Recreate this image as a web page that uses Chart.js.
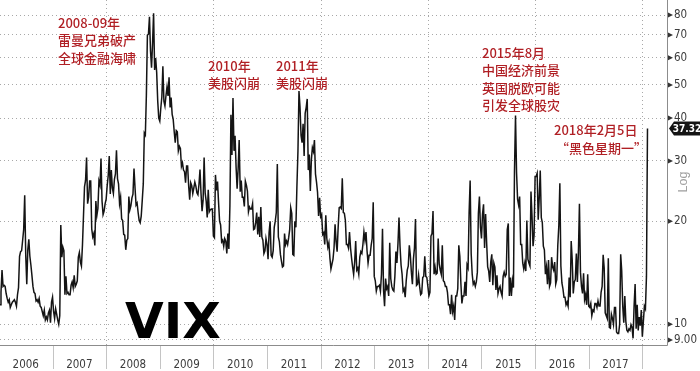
<!DOCTYPE html>
<html>
<head>
<meta charset="utf-8">
<script src="https://cdn.jsdelivr.net/npm/chart.js@4.4.0/dist/chart.umd.min.js"></script>
<style>
  html, body { margin: 0; background: #fff; }
  #wrap { width: 700px; height: 371px; position: relative; }
</style>
</head>
<body>
<div id="wrap"><canvas id="c"></canvas></div>
<script>
// weekly VIX closes (spike weeks carry the daily peak), one array per year
const vix2006 = [11.1, 11.4, 12.4, 14.4, 12.9, 13.0, 12.9, 12.3, 11.9, 11.6, 11.8, 11.2, 11.4, 11.6, 11.7, 11.8, 11.6, 11.3, 12.2, 12.8, 15.8, 16.3, 16.4, 17.6, 18.9, 23.8, 15.9, 13.1, 16.5, 17.7, 15.8, 14.9, 13.9, 12.9, 12.4, 12.3, 11.7, 11.8, 11.6, 11.9, 11.3, 11.2, 10.9, 10.6, 11.0, 10.3, 10.5, 10.3, 10.8, 11.0, 10.1, 11.6]
const vix2007 = [12.0, 10.9, 10.4, 11.1, 10.7, 10.3, 10.0, 10.6, 19.5, 15.7, 16.8, 16.4, 12.2, 13.8, 12.3, 12.4, 12.2, 12.2, 13.0, 13.3, 12.8, 13.9, 12.9, 13.1, 13.4, 15.7, 16.2, 15.2, 14.8, 17.0, 20.7, 25.2, 26.3, 30.7, 22.5, 23.5, 26.2, 26.2, 19.0, 18.0, 18.4, 17.0, 22.9, 20.8, 21.8, 26.2, 25.5, 30.5, 22.9, 20.9, 21.4, 22.5]
const vix2008 = [23.2, 25.4, 27.2, 31.0, 24.0, 28.2, 25.0, 24.1, 26.5, 27.5, 32.2, 26.6, 25.7, 22.5, 23.5, 20.3, 20.1, 18.3, 18.2, 16.5, 17.6, 17.8, 23.6, 21.6, 22.2, 23.4, 24.0, 28.5, 25.0, 22.3, 22.6, 21.2, 20.1, 19.8, 20.7, 23.0, 25.7, 36.2, 35.7, 46.7, 69.9, 70.3, 79.1, 62.9, 56.1, 66.3, 80.9, 55.3, 59.9, 54.3, 44.9, 40.0]
const vix2009 = [39.2, 42.8, 46.1, 56.7, 44.8, 43.4, 46.5, 49.3, 46.4, 52.6, 43.0, 45.9, 41.0, 39.7, 36.5, 33.9, 36.8, 36.5, 32.1, 33.1, 32.6, 28.9, 29.6, 28.2, 27.9, 25.9, 29.0, 29.0, 25.4, 23.1, 25.9, 25.4, 24.1, 25.0, 26.0, 25.3, 24.2, 23.9, 25.6, 28.3, 24.1, 21.4, 23.0, 30.7, 24.2, 22.9, 20.5, 24.7, 21.3, 21.6, 21.7, 21.7]
const vix2010 = [18.1, 17.9, 27.3, 24.6, 26.1, 22.7, 20.0, 19.5, 17.4, 17.6, 16.9, 17.8, 17.5, 16.1, 18.4, 16.6, 22.1, 40.9, 31.2, 45.8, 32.1, 35.5, 28.8, 24.9, 28.5, 34.5, 24.4, 26.3, 23.5, 23.5, 22.1, 26.2, 25.5, 24.5, 21.3, 22.0, 21.7, 21.7, 22.5, 18.9, 19.0, 19.8, 21.2, 18.3, 20.6, 18.0, 22.0, 18.0, 17.6, 16.1, 16.4, 17.8]
const vix2011 = [17.1, 15.5, 18.5, 20.0, 15.9, 15.7, 16.4, 19.2, 20.0, 21.2, 29.4, 18.0, 17.4, 16.0, 15.3, 14.7, 14.8, 18.4, 17.1, 17.5, 17.1, 17.9, 18.9, 21.9, 21.1, 16.0, 15.9, 20.0, 19.2, 25.3, 32.0, 48.0, 43.0, 35.6, 33.9, 38.5, 31.0, 41.3, 43.0, 45.5, 28.2, 31.3, 24.5, 30.2, 32.8, 32.0, 34.5, 27.5, 26.0, 24.3, 20.7, 23.4]
const vix2012 = [20.6, 20.9, 18.3, 18.5, 17.1, 20.8, 17.8, 16.8, 17.3, 15.6, 14.5, 15.0, 15.5, 16.7, 19.6, 17.4, 16.3, 19.2, 21.9, 22.0, 21.8, 26.7, 21.2, 21.1, 20.1, 17.1, 17.1, 16.7, 18.6, 16.7, 15.6, 14.7, 14.0, 15.2, 17.5, 14.4, 14.6, 14.0, 15.7, 16.3, 16.1, 17.1, 18.6, 17.6, 18.6, 16.4, 15.1, 15.9, 15.9, 17.0, 17.8, 22.7]
const vix2013 = [13.8, 13.4, 12.5, 12.9, 12.9, 13.0, 12.5, 14.0, 19.0, 12.6, 11.3, 13.6, 12.7, 12.9, 12.1, 17.3, 13.6, 12.9, 12.6, 12.5, 13.8, 16.3, 15.1, 17.2, 20.5, 16.9, 14.9, 14.0, 12.5, 12.7, 12.0, 13.4, 14.4, 14.8, 17.0, 15.9, 14.2, 13.1, 15.5, 16.7, 20.3, 13.0, 13.1, 13.9, 12.9, 12.2, 12.3, 13.7, 13.8, 15.8, 13.8, 13.7]
const vix2014 = [12.9, 12.1, 12.4, 18.1, 18.4, 21.4, 14.0, 14.7, 14.0, 14.1, 17.8, 15.0, 14.4, 14.0, 17.0, 13.4, 13.3, 12.9, 12.9, 12.4, 11.4, 11.4, 10.7, 12.2, 10.9, 11.3, 10.3, 12.1, 12.1, 12.7, 17.0, 15.8, 13.2, 11.5, 12.1, 12.1, 13.3, 12.1, 14.9, 14.6, 21.2, 26.3, 16.1, 14.0, 13.1, 13.3, 12.9, 13.3, 14.2, 21.1, 23.6, 19.2]
const vix2015 = [17.8, 21.0, 22.4, 16.7, 21.0, 17.3, 14.7, 14.3, 13.3, 15.2, 16.0, 13.0, 15.1, 14.7, 12.6, 13.9, 12.3, 12.7, 12.9, 12.4, 12.1, 13.8, 14.2, 13.8, 14.0, 18.9, 19.7, 12.1, 13.7, 12.1, 13.4, 12.8, 28.0, 40.7, 27.8, 23.2, 22.3, 23.6, 17.1, 17.1, 15.1, 14.5, 15.1, 14.3, 20.1, 15.5, 15.1, 14.8, 24.4, 20.7, 16.9, 18.2]
const vix2016 = [27.0, 27.0, 27.6, 20.2, 23.4, 28.1, 20.5, 19.8, 16.9, 16.5, 14.0, 14.7, 13.1, 15.4, 12.9, 13.2, 15.7, 14.7, 14.4, 15.2, 13.1, 13.5, 17.0, 19.4, 25.8, 14.8, 13.2, 12.7, 12.0, 12.0, 11.4, 11.6, 11.3, 13.7, 12.0, 17.5, 15.4, 12.3, 13.3, 13.5, 16.1, 13.3, 16.2, 22.5, 14.2, 12.9, 12.3, 14.1, 11.8, 12.2, 11.4, 14.0]
const vix2017 = [11.3, 11.2, 11.5, 10.6, 11.0, 10.9, 11.5, 11.5, 11.2, 11.7, 11.3, 11.3, 12.4, 12.9, 15.96, 14.6, 10.8, 10.6, 10.4, 15.6, 9.8, 9.75, 10.7, 10.4, 10.0, 11.2, 11.2, 9.5, 9.4, 9.4, 10.0, 16.0, 14.3, 11.3, 10.1, 12.1, 10.2, 9.6, 9.5, 9.7, 9.6, 9.97, 9.8, 9.1, 11.3, 13.1, 9.7, 11.4, 9.6, 10.5, 9.9, 11.0]
const vix2018 = [9.2, 10.2, 11.3, 11.1, 13.8, 37.32]

const years = [2006, 2007, 2008, 2009, 2010, 2011, 2012, 2013, 2014, 2015, 2016, 2017, 2018]
const yearly = [vix2006, vix2007, vix2008, vix2009, vix2010, vix2011, vix2012, vix2013, vix2014, vix2015, vix2016, vix2017, vix2018]

const yearLabels = [2006, 2007, 2008, 2009, 2010, 2011, 2012, 2013, 2014, 2015, 2016, 2017]
const yTicks = [9, 10, 20, 30, 40, 50, 60, 70, 80]

const notes = [
  { lines: ['2008-09年', '雷曼兄弟破产', '全球金融海啸'], x: 58, y: 23 },
  { lines: ['2010年', '美股闪崩'], x: 208, y: 66 },
  { lines: ['2011年', '美股闪崩'], x: 276, y: 66 },
  { lines: ['2015年8月', '中国经济前景', '英国脱欧可能', '引发全球股灾'], x: 482, y: 53 },
  { lines: ['2018年2月5日'], x: 554, y: 130 },
  { lines: ['“黑色星期一”'], x: 556, y: 148 },
]

// week i of year -> decimal year
const points = []
years.forEach((yr, k) => {
  yearly[k].forEach((v, i) => points.push({ x: yr + i / 52, y: v }))
})
const lastValue = vix2018[vix2018.length - 1]

const NARROW = "'Liberation Sans Narrow', 'DejaVu Sans Condensed', sans-serif"
const RED = '#b01f24'
const DOTS = [1, 3]

const decor = {
  id: 'decor',
  beforeDatasetsDraw(chart) {
    const { ctx, chartArea: a, scales: { x } } = chart
    ctx.save()
    // vertical dotted grid, every other year
    ctx.strokeStyle = '#a8a8a8'
    ctx.lineWidth = 1
    ctx.setLineDash(DOTS)
    for (let yr = 2008; yr <= 2018; yr += 2) {
      const px = Math.round(x.getPixelForValue(yr)) + 0.5
      ctx.beginPath(); ctx.moveTo(px, a.top); ctx.lineTo(px, a.bottom); ctx.stroke()
    }
    ctx.setLineDash([])
    // year separators under the plot
    ctx.strokeStyle = '#c4c4c4'
    for (let yr = 2007; yr <= 2018; yr++) {
      const px = Math.round(x.getPixelForValue(yr)) + 0.5
      ctx.beginPath(); ctx.moveTo(px, a.bottom); ctx.lineTo(px, chart.height - 2); ctx.stroke()
    }
    // VIX title
    ctx.fillStyle = '#000'
    ctx.font = "bold 50px 'DejaVu Sans', sans-serif"
    ctx.textBaseline = 'alphabetic'
    ctx.fillText('VIX', 125, 338)
    ctx.restore()
  },
  afterDraw(chart) {
    const { ctx, chartArea: a, scales: { y } } = chart
    ctx.save()
    // frame
    ctx.strokeStyle = '#8c8c8c'
    ctx.lineWidth = 1
    ctx.beginPath()
    ctx.moveTo(Math.round(a.right) + 0.5, 0)
    ctx.lineTo(Math.round(a.right) + 0.5, Math.round(a.bottom) + 0.5)
    ctx.lineTo(0, Math.round(a.bottom) + 0.5)
    ctx.stroke()
    // tick arrows
    ctx.fillStyle = '#333'
    yTicks.forEach(v => {
      const py = y.getPixelForValue(v)
      ctx.beginPath()
      ctx.moveTo(a.right + 1, py - 2.5); ctx.lineTo(a.right + 6, py); ctx.lineTo(a.right + 1, py + 2.5)
      ctx.closePath(); ctx.fill()
    })
    // last value tag
    const ty = y.getPixelForValue(lastValue)
    const bx = a.right + 7
    ctx.fillStyle = '#141414'
    ctx.beginPath()
    ctx.moveTo(a.right + 2, ty)
    ctx.lineTo(bx, ty - 7)
    ctx.lineTo(700, ty - 7)
    ctx.lineTo(700, ty + 7)
    ctx.lineTo(bx, ty + 7)
    ctx.closePath(); ctx.fill()
    ctx.fillStyle = '#fff'
    ctx.font = `bold 10px ${NARROW}`
    ctx.textAlign = 'center'
    ctx.textBaseline = 'middle'
    ctx.fillText(lastValue.toFixed(2), (bx + 700) / 2, ty + 0.5)
    // Log label
    ctx.save()
    ctx.translate(684, 182)
    ctx.rotate(-Math.PI / 2)
    ctx.fillStyle = '#a0a0a0'
    ctx.font = "12.5px 'Liberation Sans', sans-serif"
    ctx.fillText('Log', 0, 0)
    ctx.restore()
    // red notes
    ctx.fillStyle = RED
    ctx.font = "500 13px 'Noto Sans CJK SC', sans-serif"
    ctx.textAlign = 'left'
    notes.forEach(n => {
      n.lines.forEach((t, i) => ctx.fillText(t, n.x, n.y + i * 17.5))
    })
    ctx.restore()
  }
}

new Chart(document.getElementById('c'), {
  type: 'line',
  data: {
    datasets: [{
      data: points,
      borderColor: '#141414',
      borderWidth: 1.5,
      pointRadius: 0,
      tension: 0,
      fill: false,
    }]
  },
  options: {
    responsive: true,
    maintainAspectRatio: false,
    animation: false,
    layout: { padding: 0 },
    plugins: { legend: { display: false }, tooltip: { enabled: false } },
    scales: {
      x: {
        type: 'linear',
        min: 2006.02,
        max: 2018.46,
        grid: { display: false },
        border: { display: false },
        afterBuildTicks: s => { s.ticks = yearLabels.map(v => ({ value: v + 0.5 })) },
        afterFit: s => { s.height = 26; s.paddingLeft = 0; s.paddingRight = 0 },
        ticks: {
          autoSkip: false,
          maxRotation: 0,
          padding: 5,
          color: '#3c3c3c',
          font: { family: NARROW, size: 11.5 },
          callback: v => String(Math.floor(v)),
        },
      },
      y: {
        type: 'logarithmic',
        position: 'right',
        min: 8.7,
        max: 88.5,
        grid: { color: '#a8a8a8', lineWidth: 1, drawTicks: false },
        border: { display: false, dash: DOTS },
        afterBuildTicks: s => { s.ticks = yTicks.map(v => ({ value: v })) },
        afterFit: s => { s.width = 33; s.paddingTop = 0; s.paddingBottom = 0 },
        ticks: {
          autoSkip: false,
          padding: 7,
          color: '#3c3c3c',
          font: { family: NARROW, size: 11.5 },
          callback: v => (v === 9 ? '9.00' : String(v)),
        },
      },
    },
  },
  plugins: [decor],
})
</script>
</body>
</html>
